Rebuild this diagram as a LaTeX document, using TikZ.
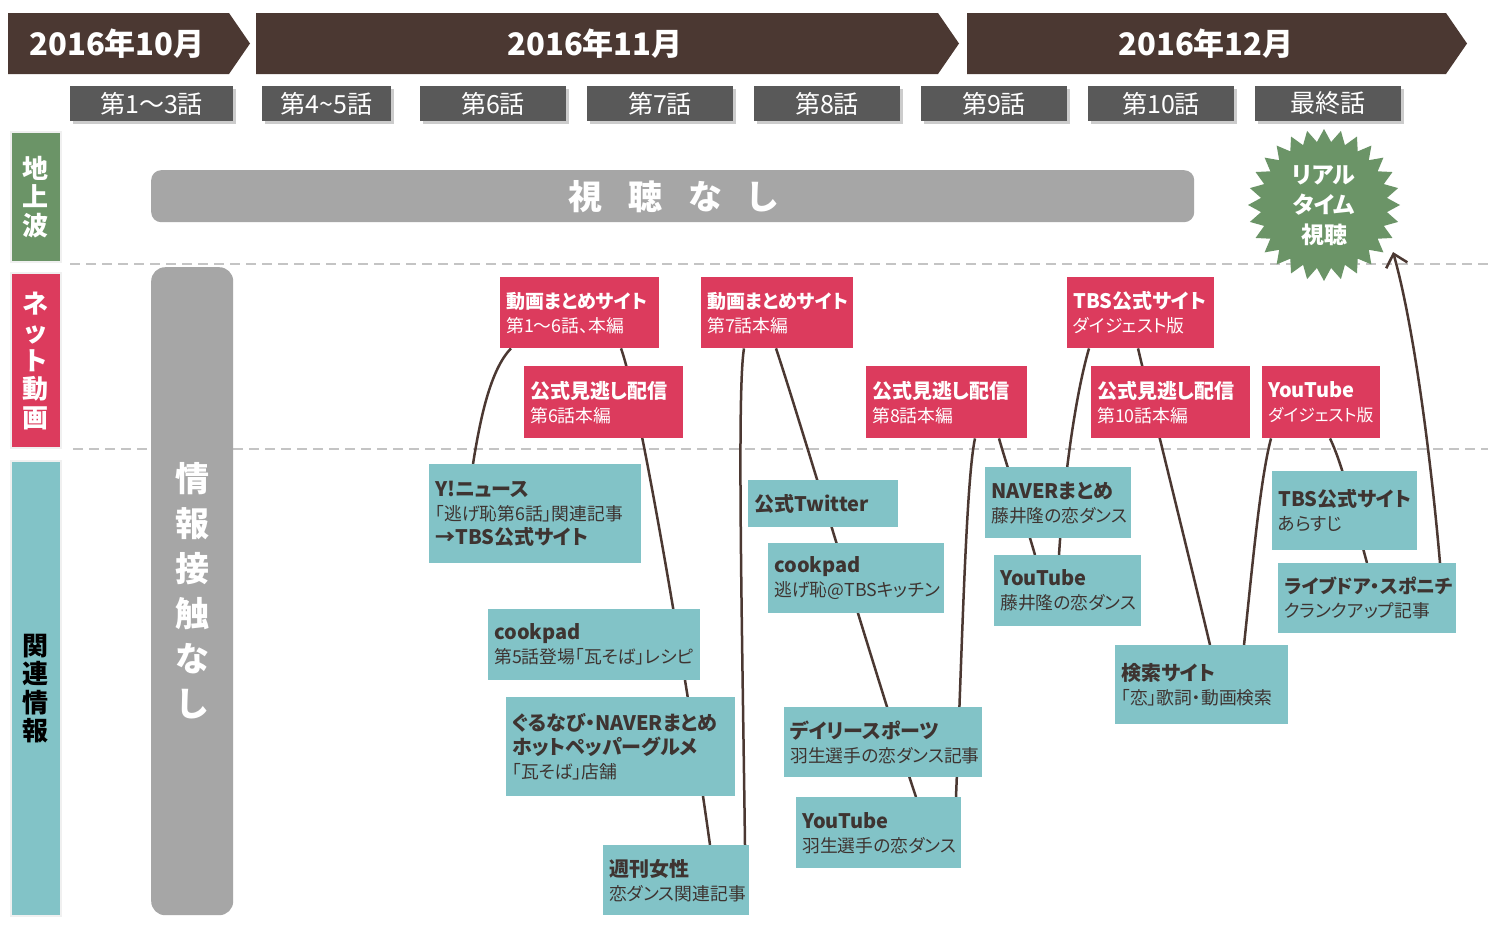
\documentclass[tikz,border=0pt]{standalone}
\usepackage{fontspec}
\setmainfont{Noto Sans CJK JP}[RawFeature=+palt]
\usetikzlibrary{shapes.geometric,shadows,arrows.meta}
\definecolor{brn}{HTML}{4B3832}
\definecolor{epg}{HTML}{595959}
\definecolor{grn}{HTML}{6B9467}
\definecolor{rd}{HTML}{DC3B5D}
\definecolor{tl}{HTML}{82C3C7}
\definecolor{barg}{HTML}{A6A6A6}
\definecolor{dsh}{HTML}{C4C4C4}
\definecolor{tx}{HTML}{3E3431}
\pgfdeclarelayer{back}
\pgfdeclarelayer{bg}
\pgfsetlayers{back,bg,main}
\newcommand\bT[1]{{\fontsize{20}{24}\selectfont\bfseries #1}}
\newcommand\bTs[1]{{\fontsize{19}{24}\selectfont\bfseries #1}}
\newcommand\sS[1]{{\fontsize{16.8}{24}\selectfont #1}}
\tikzset{
 card/.style={anchor=north west, inner xsep=6pt, inner ysep=0pt, align=left, font=\fontsize{17.8}{24}\selectfont},
 redcard/.style={card, fill=rd, text=white},
 tealcard/.style={card, fill=tl, text=tx},
 ep/.style={fill=epg, text=white, minimum height=35pt, inner sep=0pt, font=\fontsize{25}{28}\selectfont, drop shadow={shadow xshift=3pt,shadow yshift=-3pt,opacity=0.4}},
 monthtxt/.style={text=white, font=\fontsize{31}{34}\selectfont\bfseries},
 side/.style={anchor=north west, draw=black!6, line width=2pt, inner sep=0pt, align=center, font=\fontsize{26}{28.5}\selectfont\bfseries},
 link/.style={draw=brn, line width=2.5pt},
 dashline/.style={draw=dsh, line width=2pt, dash pattern=on 10pt off 6pt},
}
\begin{document}
\begin{tikzpicture}[x=1pt,y=-1pt]
\begin{pgfonlayer}{back}
\fill[white] (0,0) rectangle (1488,940);
\end{pgfonlayer}
\useasboundingbox (0,0) rectangle (1488,940);

% month headers
\fill[brn] (8,13) -- (229,13) -- (250,43.5) -- (229,74) -- (8,74) -- cycle;
\node[monthtxt] (m1) at (117,43.5) {2016年10月};
\fill[brn] (256,13) -- (938,13) -- (959,43.5) -- (938,74) -- (256,74) -- cycle;
\node[monthtxt] (m2) at (595,43.5) {2016年11月};
\fill[brn] (967,13) -- (1446,13) -- (1467,43.5) -- (1446,74) -- (967,74) -- cycle;
\node[monthtxt] (m3) at (1206,43.5) {2016年12月};

% episodes
\node[ep, minimum width=163pt] (e1) at (151.5,103.5) {第1〜3話};
\node[ep, minimum width=129pt] (e2) at (326.5,103.5) {第4{\char"007E}5話};
\node[ep, minimum width=146pt] (e3) at (493,103.5) {第6話};
\node[ep, minimum width=146pt] (e4) at (660,103.5) {第7話};
\node[ep, minimum width=146pt] (e5) at (827,103.5) {第8話};
\node[ep, minimum width=146pt] (e6) at (994,103.5) {第9話};
\node[ep, minimum width=146pt] (e7) at (1161,103.5) {第10話};
\node[ep, minimum width=146pt] (e8) at (1328,103.5) {最終話};

% side labels
\node[side, fill=grn, text=white, minimum width=50pt, minimum height=130pt] (s1) at (10,131) {地\\上\\波};
\node[side, fill=rd, text=white, minimum width=50pt, minimum height=175pt] (s2) at (10,272) {ネ\\ッ\\ト\\動\\画};
\node[side, fill=tl, text=black, minimum width=50pt, minimum height=455pt] (s3) at (10,460) {関\\連\\情\\報};

% bars
\node[anchor=north west, fill=barg, rounded corners=10pt, minimum width=1043pt, minimum height=52pt, inner sep=0pt, text=white, font=\fontsize{34}{38}\selectfont\bfseries] (nv) at (151,170) {視\hspace{26pt}聴\hspace{26pt}な\hspace{26pt}し};
\node[anchor=north west, fill=barg, rounded corners=14pt, minimum width=82pt, minimum height=648pt, inner sep=0pt, text=white, align=center, font=\fontsize{34}{45}\selectfont\bfseries] (nc) at (151,267) {情\\報\\接\\触\\な\\し};

% starburst
\node[star, star points=28, star point ratio=1.2, minimum size=152pt, inner sep=0pt, fill=grn] (burst) at (1324,205) {};
\node[text=white, align=center, font=\fontsize{23}{30}\selectfont\bfseries] (bt) at (1324,206) {リアル\\タイム\\視聴};
\coordinate (tip) at (1393,252);

% red cards
\node[redcard, minimum width=159pt, text width=147pt, minimum height=71pt] (v1) at (500,277) {\bTs{動画まとめサイト}\\第1〜6話、本編};
\node[redcard, minimum width=152pt, text width=140pt, minimum height=71pt] (v2) at (701,277) {\bTs{動画まとめサイト}\\第7話本編};
\node[redcard, minimum width=159pt, text width=147pt, minimum height=72pt] (v3) at (524,366) {\bT{公式見逃し配信}\\第6話本編};
\node[redcard, minimum width=161pt, text width=149pt, minimum height=72pt] (v4) at (866,366) {\bT{公式見逃し配信}\\第8話本編};
\node[redcard, minimum width=147pt, text width=135pt, minimum height=71pt] (v5) at (1067,277) {\bT{TBS公式サイト}\\ダイジェスト版};
\node[redcard, minimum width=159pt, text width=147pt, minimum height=72pt] (v6) at (1091,366) {\bT{公式見逃し配信}\\第10話本編};
\node[redcard, minimum width=118pt, text width=106pt, minimum height=72pt] (v7) at (1262,366) {\bT{YouTube}\\\sS{ダイジェスト版}};

% teal cards
\node[tealcard, minimum width=212pt, text width=200pt, minimum height=99pt] (r1) at (429,464) {\bT{Y!ニュース}\\「逃げ恥第6話」関連記事\\\bT{→TBS公式サイト}};
\node[tealcard, minimum width=150pt, text width=138pt, minimum height=47pt] (r2) at (748,480) {\bT{公式Twitter}};
\node[tealcard, minimum width=176pt, text width=164pt, minimum height=70pt] (r3) at (768,543) {\bT{cookpad}\\逃げ恥@TBSキッチン};
\node[tealcard, minimum width=212pt, text width=200pt, minimum height=71pt] (r4) at (488,609) {\bT{cookpad}\\第5話登場「瓦そば」レシピ};
\node[tealcard, minimum width=229pt, text width=217pt, minimum height=99pt] (r5) at (506,697) {\bT{ぐるなび・NAVERまとめ}\\\bT{ホットペッパーグルメ}\\「瓦そば」店舗};
\node[tealcard, minimum width=146pt, text width=134pt, minimum height=70pt] (r6) at (603,845) {\bT{週刊女性}\\恋ダンス関連記事};
\node[tealcard, minimum width=198pt, text width=186pt, minimum height=70pt] (r7) at (784,707) {\bT{デイリースポーツ}\\羽生選手の恋ダンス記事};
\node[tealcard, minimum width=165pt, text width=153pt, minimum height=71pt] (r8) at (796,797) {\bT{YouTube}\\羽生選手の恋ダンス};
\node[tealcard, minimum width=146pt, text width=134pt, minimum height=71pt] (r9) at (985,467) {\bT{NAVERまとめ}\\藤井隆の恋ダンス};
\node[tealcard, minimum width=147pt, text width=135pt, minimum height=71pt] (r10) at (994,555) {\bT{YouTube}\\藤井隆の恋ダンス};
\node[tealcard, minimum width=173pt, text width=161pt, minimum height=79pt] (r11) at (1115,645) {\bT{検索サイト}\\「恋」歌詞・動画検索};
\node[tealcard, minimum width=145pt, text width=133pt, minimum height=79pt] (r12) at (1272,471) {\bT{TBS公式サイト}\\あらすじ};
\node[tealcard, minimum width=178pt, text width=166pt, minimum height=70pt] (r13) at (1278,563) {\bTs{ライブドア・スポニチ}\\クランクアップ記事};

\begin{pgfonlayer}{bg}
\draw[dashline] (70,264) -- (1488,264);
\draw[dashline] (73,449) -- (1488,449);
\draw[link] ([xshift=44pt]r1.north west) .. controls (480,420) and (490,370) .. ([xshift=11pt]v1.south west);
\draw[link] ([xshift=121pt]v1.south west) .. controls (640,400) and (690,700) .. ([xshift=107pt]r6.north west);
\draw[link] ([xshift=142pt]r6.north west) .. controls (742,620) and (737,390) .. ([xshift=43pt]v2.south west);
\draw[link] ([xshift=75pt]v2.south west) .. controls (800,420) and (880,690) .. ([xshift=120pt]r8.north west);
\draw[link] ([xshift=160pt]r8.north west) .. controls (962,650) and (966,480) .. ([xshift=109pt]v4.south west);
\draw[link] ([xshift=133pt]v4.south west) .. controls (1008,470) and (1025,520) .. ([xshift=41pt]r10.north west);
\draw[link] ([xshift=65pt]r10.north west) .. controls (1063,490) and (1074,400) .. ([xshift=22pt]v5.south west);
\draw[link] ([xshift=71pt]v5.south west) .. controls (1155,420) and (1185,540) .. ([xshift=95pt]r11.north west);
\draw[link] ([xshift=129pt]r11.north west) .. controls (1252,570) and (1260,480) .. ([xshift=9pt]v7.south west);
\draw[link] ([xshift=68pt]v7.south west) .. controls (1345,470) and (1355,520) .. ([xshift=89pt]r13.north west);
\draw[link, -{Straight Barb[length=12pt,width=22pt]}] ([xshift=162pt]r13.north west) .. controls (1432,470) and (1415,330) .. (tip);
\end{pgfonlayer}
\end{tikzpicture}
\end{document}
